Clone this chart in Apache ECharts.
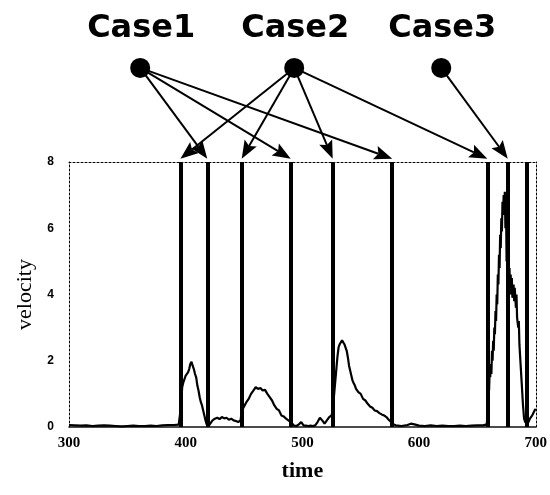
<!DOCTYPE html>
<html>
<head>
<meta charset="utf-8">
<script src="https://cdn.jsdelivr.net/npm/echarts@6/dist/echarts.min.js"></script>
<style>html,body{margin:0;padding:0;background:#fff;}#c{width:550px;height:495px;}</style>
</head>
<body>
<div id="c"></div>
<script>
// ---- data ----
const times = [
  300,305,310,315,320,325,330,335,340,345,350,355,360,365,370,375,380,385,390,394,
  395,396,397,398,399,400,401,402,403,404,405,406,407,408,409,410,411,412,413,414,415,416,417,418,419,420,
  421,423,425,427,429,431,433,435,437,439,441,443,445,447,
  448,449,450,452,454,456,458,460,462,464,466,468,470,472,474,476,478,480,482,484,486,488,490,491,
  493,495,497,499,501,503,505,507,509,511,513,515,517,519,521,523,525,
  526,527,528,529,530,531,532,533,534,535,536,537,538,539,540,541,542,543,544,545,546,548,550,552,554,556,558,560,562,564,566,568,570,572,574,576,578,
  580,585,590,593,596,600,605,610,615,620,625,630,635,640,645,650,655,658,
  659,659.5,660,660.5,661,661.5,662,662.5,663,663.5,664,664.5,665,665.5,666,666.5,667,667.5,668,668.5,669,669.5,670,670.5,671,671.5,672,672.5,673,673.5,674,674.5,675,675.5,676,676.5,677,677.5,678,678.5,679,679.5,680,681,681.5,682,683,683.5,684,685,685.5,686,687,688,689,690,
  691,693,695,697,699,700
];
const velocity = [
  0.06,0.05,0.04,0.05,0.03,0.04,0.05,0.04,0.03,0.02,0.03,0.04,0.03,0.03,0.04,0.03,0.05,0.06,0.06,0.07,
  0.10,0.60,1.20,1.35,1.30,1.55,1.60,1.65,1.75,1.90,1.97,1.85,1.75,1.60,1.50,1.25,1.10,0.90,0.75,0.65,0.50,0.35,0.20,0.08,0.04,0.05,
  0.10,0.20,0.25,0.28,0.24,0.30,0.26,0.28,0.22,0.25,0.20,0.18,0.15,0.20,
  0.45,0.55,0.60,0.75,0.85,1.00,1.10,1.20,1.15,1.18,1.10,1.12,1.00,0.90,0.80,0.65,0.55,0.50,0.35,0.32,0.25,0.20,0.15,0.10,
  0.04,0.03,0.08,0.15,0.05,0.04,0.03,0.04,0.03,0.05,0.15,0.28,0.20,0.10,0.20,0.30,0.35,
  0.50,0.90,1.30,1.70,2.10,2.40,2.50,2.55,2.62,2.60,2.50,2.45,2.30,2.10,1.85,1.70,1.55,1.40,1.32,1.25,1.15,1.05,1.00,0.85,0.80,0.70,0.62,0.58,0.50,0.48,0.42,0.38,0.35,0.30,0.22,0.15,0.08,
  0.05,0.03,0.06,0.10,0.08,0.04,0.03,0.05,0.03,0.04,0.03,0.03,0.04,0.03,0.04,0.05,0.05,0.08,
  0.50,1.30,1.10,1.70,1.50,1.90,1.60,2.30,2.00,2.60,2.30,3.00,2.80,3.50,3.20,4.00,3.70,4.60,4.30,5.20,4.80,5.80,5.40,6.30,5.90,6.80,6.40,7.00,6.50,7.10,6.00,6.90,5.00,6.20,4.40,5.00,4.20,4.80,4.00,4.60,4.10,4.50,3.90,4.30,3.80,4.20,3.60,4.00,3.30,3.00,3.20,2.50,1.90,1.30,0.70,0.25,
  0.15,0.10,0.25,0.35,0.50,0.55
];
const eventTimes = [395.5, 418.5, 448, 490, 526, 577, 658.5, 676, 692.5];
const caseNames = ['Case1', 'Case2', 'Case3'];
const caseTime = [361, 493, 619];
const caseLevel = [10.84, 10.84, 10.84];
const caseTargets = [[418.5, 490, 577], [395.5, 448, 526, 658.5], [676]];
const arrowTipLevel = 8.1;
const xTicks = [300, 400, 500, 600, 700];
const yTicks = [0, 2, 4, 6, 8];

// ---- build ----
const curve = times.map((t, i) => [t, velocity[i]]);
const dots = caseNames.map((n, i) => ({ name: n, value: [caseTime[i], caseLevel[i]] }));
const arrows = [];
caseTargets.forEach((list, i) => list.forEach(t => arrows.push([caseTime[i], caseLevel[i], t, arrowTipLevel])));

const dotted = { color: '#000', width: 1, type: [2, 2] };

const chart = echarts.init(document.getElementById('c'), null, { renderer: 'canvas' });
chart.setOption({
  animation: false,
  backgroundColor: '#fff',
  grid: { left: 69, right: 9, top: 162, bottom: 68, containLabel: false },
  xAxis: [{
    type: 'value', min: xTicks[0], max: xTicks[xTicks.length - 1], interval: xTicks[1] - xTicks[0],
    position: 'bottom',
    axisLine: { show: true, onZero: false, lineStyle: { color: '#111', width: 1.5 } },
    axisTick: { show: false }, splitLine: { show: false },
    axisLabel: { color: '#000', fontFamily: 'Liberation Serif', fontWeight: 'bold', fontSize: 15, margin: 9 },
    name: 'time', nameLocation: 'middle', nameGap: 33,
    nameTextStyle: { color: '#000', fontFamily: 'Liberation Serif', fontSize: 22, fontWeight: 'bold' }
  }, {
    type: 'value', min: xTicks[0], max: xTicks[xTicks.length - 1], position: 'top',
    axisLine: { show: true, onZero: false, lineStyle: dotted },
    axisTick: { show: false }, axisLabel: { show: false }, splitLine: { show: false }
  }],
  yAxis: [{
    type: 'value', min: yTicks[0], max: yTicks[yTicks.length - 1], interval: yTicks[1] - yTicks[0],
    position: 'left',
    axisLine: { show: true, onZero: false, lineStyle: dotted },
    axisTick: { show: false }, splitLine: { show: false },
    axisLabel: { color: '#000', fontFamily: 'Liberation Sans', fontWeight: 'bold', fontSize: 12, margin: 15 },
    name: 'velocity', nameLocation: 'middle', nameGap: 33,
    nameTextStyle: { color: '#000', fontFamily: 'Liberation Serif', fontSize: 22 }
  }, {
    type: 'value', min: yTicks[0], max: yTicks[yTicks.length - 1], position: 'right',
    axisLine: { show: true, onZero: false, lineStyle: dotted },
    axisTick: { show: false }, axisLabel: { show: false }, splitLine: { show: false }
  }],
  series: [{
    type: 'line', data: curve, showSymbol: false, symbol: 'none',
    lineStyle: { color: '#000', width: 2.2 }, z: 3,
    markLine: {
      silent: true, symbol: ['none', 'none'], label: { show: false },
      lineStyle: { color: '#000', width: 4, type: 'solid', opacity: 1 },
      data: eventTimes.map(t => ({ xAxis: t }))
    }
  }, {
    type: 'custom', clip: false, silent: true, z: 4,
    data: arrows,
    encode: { x: [0, 2], y: [1, 3] },
    renderItem: function (params, api) {
      const p1 = api.coord([api.value(0), api.value(1)]);
      const p2 = api.coord([api.value(2), api.value(3)]);
      const dx = p2[0] - p1[0], dy = p2[1] - p1[1];
      const len = Math.sqrt(dx * dx + dy * dy);
      const ux = dx / len, uy = dy / len;
      const L = 18, W = 7;
      const bx = p2[0] - ux * L, by = p2[1] - uy * L;
      const nx = p2[0] - ux * L * 0.82, ny = p2[1] - uy * L * 0.82;
      return {
        type: 'group',
        children: [{
          type: 'line',
          shape: { x1: p1[0], y1: p1[1], x2: nx, y2: ny },
          style: { stroke: '#000', lineWidth: 2 }
        }, {
          type: 'polygon',
          shape: { points: [[p2[0], p2[1]], [bx - uy * W, by + ux * W], [nx, ny], [bx + uy * W, by - ux * W]] },
          style: { fill: '#000' }
        }]
      };
    }
  }, {
    type: 'scatter', clip: false, silent: true, z: 5,
    data: dots, symbolSize: 20,
    itemStyle: { color: '#000', opacity: 1 },
    label: { show: false }
  }, {
    type: 'custom', clip: false, silent: true, z: 6,
    data: dots,
    renderItem: function (params, api) {
      const p = api.coord([api.value(0), api.value(1)]);
      return {
        type: 'text',
        x: p[0] + 1, y: p[1] - 39,
        style: {
          text: caseNames[params.dataIndex],
          fill: '#000', opacity: 1,
          font: '900 32px "DejaVu Sans"',
          align: 'center', verticalAlign: 'middle'
        }
      };
    }
  }]
});
</script>
</body>
</html>
